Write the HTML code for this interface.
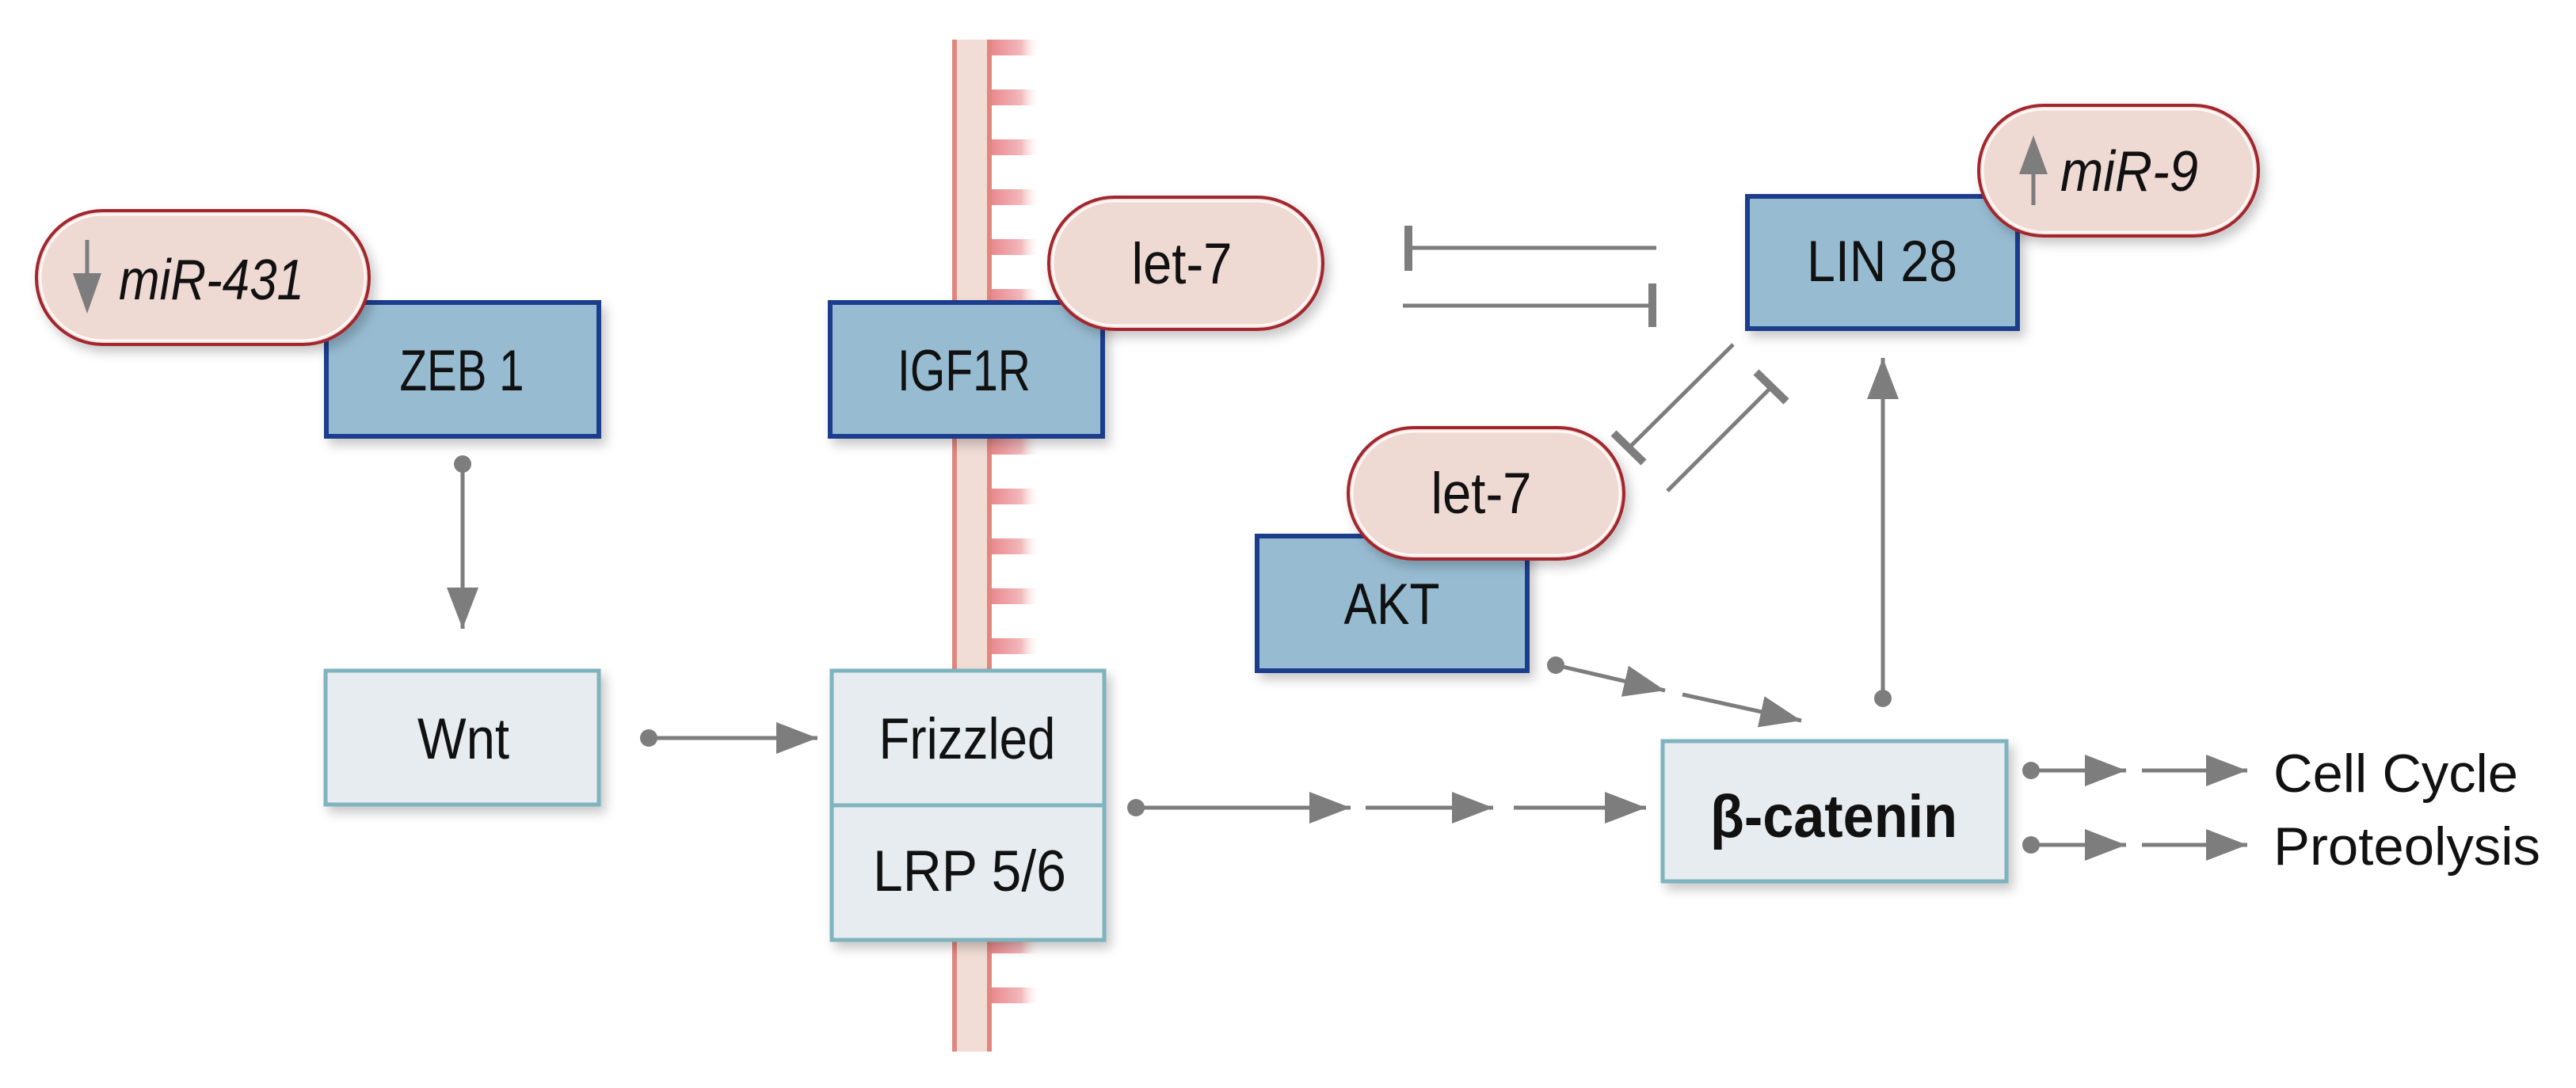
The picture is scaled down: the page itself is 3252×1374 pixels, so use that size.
<!DOCTYPE html>
<html><head><meta charset="utf-8"><style>
html,body{margin:0;padding:0;background:#fff;}
svg{display:block;}
text{font-family:"Liberation Sans",sans-serif;fill:#111;}
</style></head><body>
<svg width="3252" height="1374" viewBox="0 0 3252 1374" xmlns="http://www.w3.org/2000/svg">
<defs>
<linearGradient id="tick" x1="0" x2="1" y1="0" y2="0">
<stop offset="0" stop-color="#e98a8f"/><stop offset="0.6" stop-color="#f2b9bc"/><stop offset="1" stop-color="#fff" stop-opacity="0"/>
</linearGradient>
<filter id="sh" x="-10%" y="-10%" width="130%" height="140%">
<feDropShadow dx="6" dy="8" stdDeviation="7" flood-color="#000" flood-opacity="0.22"/>
</filter>
<marker id="ah" viewBox="0 0 52 40" refX="52" refY="20" markerWidth="52" markerHeight="40" markerUnits="userSpaceOnUse" orient="auto">
<path d="M0,0 L52,20 L0,40 Z" fill="#7d7d7d"/>
</marker>
</defs>

<!-- membrane -->
<rect x="1202" y="50" width="50" height="1278" fill="#f1ddd6"/>
<rect x="1202" y="50" width="6" height="1278" fill="#e0877f"/>
<rect x="1246" y="50" width="6" height="1278" fill="#e0877f"/>
<g fill="url(#tick)">
<rect x="1252" y="50" width="62" height="20"/><rect x="1252" y="113" width="62" height="20"/>
<rect x="1252" y="176" width="62" height="20"/><rect x="1252" y="239" width="62" height="20"/>
<rect x="1252" y="302" width="62" height="20"/><rect x="1252" y="365" width="62" height="20"/>
<rect x="1252" y="428" width="62" height="20"/><rect x="1252" y="491" width="62" height="20"/>
<rect x="1252" y="554" width="62" height="20"/><rect x="1252" y="617" width="62" height="20"/>
<rect x="1252" y="680" width="62" height="20"/><rect x="1252" y="743" width="62" height="20"/>
<rect x="1252" y="806" width="62" height="20"/><rect x="1252" y="1184" width="62" height="20"/>
<rect x="1252" y="1247" width="62" height="20"/>
</g>

<!-- boxes -->
<g filter="url(#sh)">
<rect x="412" y="382" width="344" height="169" fill="#97bcd2" stroke="#1f3c8c" stroke-width="6"/>
<rect x="1048" y="382" width="344" height="169" fill="#97bcd2" stroke="#1f3c8c" stroke-width="6"/>
<rect x="2206" y="248" width="341" height="167" fill="#97bcd2" stroke="#1f3c8c" stroke-width="6"/>
<rect x="1587" y="677" width="341" height="170" fill="#97bcd2" stroke="#1f3c8c" stroke-width="6"/>
<rect x="411" y="847" width="345" height="169" fill="#e7ecf0" stroke="#7fb3bd" stroke-width="5"/>
<rect x="1050" y="847" width="344" height="340" fill="#e7ecf0" stroke="#7fb3bd" stroke-width="5"/>
<rect x="2099" y="936" width="434" height="177" fill="#e7ecf0" stroke="#7fb3bd" stroke-width="5"/>
</g>
<line x1="1050" y1="1017" x2="1394" y2="1017" stroke="#7fb3bd" stroke-width="5"/>

<!-- pills -->
<g filter="url(#sh)" fill="#efd9d3" stroke="#a2282d" stroke-width="4">
<rect x="46" y="266" width="420" height="169" rx="84"/>
<rect x="1324" y="249" width="346" height="167" rx="83"/>
<rect x="2498" y="133" width="353" height="165" rx="82"/>
<rect x="1702" y="540" width="348" height="166" rx="83"/>
</g>
<g fill="none" stroke="#fff" stroke-width="3" opacity="0.8">
<rect x="51" y="271" width="410" height="159" rx="79"/>
<rect x="1329" y="254" width="336" height="157" rx="78"/>
<rect x="2503" y="138" width="343" height="155" rx="77"/>
<rect x="1707" y="545" width="338" height="156" rx="78"/>
</g>

<!-- labels -->
<text x="583" y="493" font-size="73" text-anchor="middle" textLength="157" lengthAdjust="spacingAndGlyphs">ZEB 1</text>
<text x="1217" y="493" font-size="73" text-anchor="middle" textLength="168" lengthAdjust="spacingAndGlyphs">IGF1R</text>
<text x="1492" y="358" font-size="73" text-anchor="middle" textLength="127" lengthAdjust="spacingAndGlyphs">let-7</text>
<text x="585" y="958" font-size="73" text-anchor="middle" textLength="116" lengthAdjust="spacingAndGlyphs">Wnt</text>
<text x="1221" y="958" font-size="73" text-anchor="middle" textLength="223" lengthAdjust="spacingAndGlyphs">Frizzled</text>
<text x="1224" y="1125" font-size="73" text-anchor="middle" textLength="244" lengthAdjust="spacingAndGlyphs">LRP 5/6</text>
<text x="2376" y="355" font-size="73" text-anchor="middle" textLength="190" lengthAdjust="spacingAndGlyphs">LIN 28</text>
<text x="1870" y="648" font-size="73" text-anchor="middle" textLength="127" lengthAdjust="spacingAndGlyphs">let-7</text>
<text x="1757" y="788" font-size="73" text-anchor="middle" textLength="121" lengthAdjust="spacingAndGlyphs">AKT</text>
<text x="150" y="378" font-size="72" font-style="italic" textLength="234" lengthAdjust="spacingAndGlyphs">miR-431</text>
<text x="2601" y="241" font-size="72" font-style="italic" textLength="174" lengthAdjust="spacingAndGlyphs">miR-9</text>
<text x="2159" y="1057" font-size="76" font-weight="bold" textLength="312" lengthAdjust="spacingAndGlyphs">β-catenin</text>
<text x="2870" y="1000" font-size="68" textLength="309" lengthAdjust="spacingAndGlyphs">Cell Cycle</text>
<text x="2870" y="1092" font-size="68" textLength="337" lengthAdjust="spacingAndGlyphs">Proteolysis</text>

<!-- up/down arrows in pills -->
<line x1="110" y1="303" x2="110" y2="350" stroke="#7d7d7d" stroke-width="5"/>
<path d="M92,345 L128,345 L110,396 Z" fill="#7d7d7d"/>
<line x1="2567" y1="215" x2="2567" y2="259" stroke="#7d7d7d" stroke-width="5"/>
<path d="M2549,220 L2585,220 L2567,171 Z" fill="#7d7d7d"/>

<!-- connectors -->
<g stroke="#7d7d7d" stroke-width="5" fill="none">
<line x1="584" y1="586" x2="584" y2="794" marker-end="url(#ah)"/>
<line x1="819" y1="932" x2="1032" y2="932" marker-end="url(#ah)"/>
<line x1="1434" y1="1020" x2="1705" y2="1020" marker-end="url(#ah)"/>
<line x1="1724" y1="1020" x2="1885" y2="1020" marker-end="url(#ah)"/>
<line x1="1911" y1="1020" x2="2078" y2="1020" marker-end="url(#ah)"/>
<line x1="1964" y1="840" x2="2102" y2="872" marker-end="url(#ah)"/>
<line x1="2124" y1="877" x2="2274" y2="910" marker-end="url(#ah)"/>
<line x1="2377" y1="882" x2="2377" y2="452" marker-end="url(#ah)"/>
<line x1="2564" y1="973" x2="2684" y2="973" marker-end="url(#ah)"/>
<line x1="2704" y1="973" x2="2837" y2="973" marker-end="url(#ah)"/>
<line x1="2564" y1="1067" x2="2684" y2="1067" marker-end="url(#ah)"/>
<line x1="2704" y1="1067" x2="2837" y2="1067" marker-end="url(#ah)"/>
<!-- inhibitions -->
<line x1="1778" y1="313" x2="2091" y2="313"/>
<line x1="1771" y1="386" x2="2085" y2="386"/>
<line x1="2188" y1="435" x2="2056" y2="566"/>
<line x1="2105" y1="620" x2="2236" y2="489"/>
</g>
<g stroke="#7d7d7d" stroke-width="10">
<line x1="1778" y1="285" x2="1778" y2="342"/>
<line x1="2086" y1="358" x2="2086" y2="413"/>
<line x1="2037" y1="547" x2="2075" y2="584"/>
<line x1="2217" y1="470" x2="2255" y2="507"/>
</g>
<g fill="#7d7d7d">
<circle cx="584" cy="586" r="11"/>
<circle cx="819" cy="932" r="11"/>
<circle cx="1434" cy="1020" r="11"/>
<circle cx="1964" cy="840" r="11"/>
<circle cx="2377" cy="882" r="11"/>
<circle cx="2564" cy="973" r="11"/>
<circle cx="2564" cy="1067" r="11"/>
</g>
</svg>
</body></html>
